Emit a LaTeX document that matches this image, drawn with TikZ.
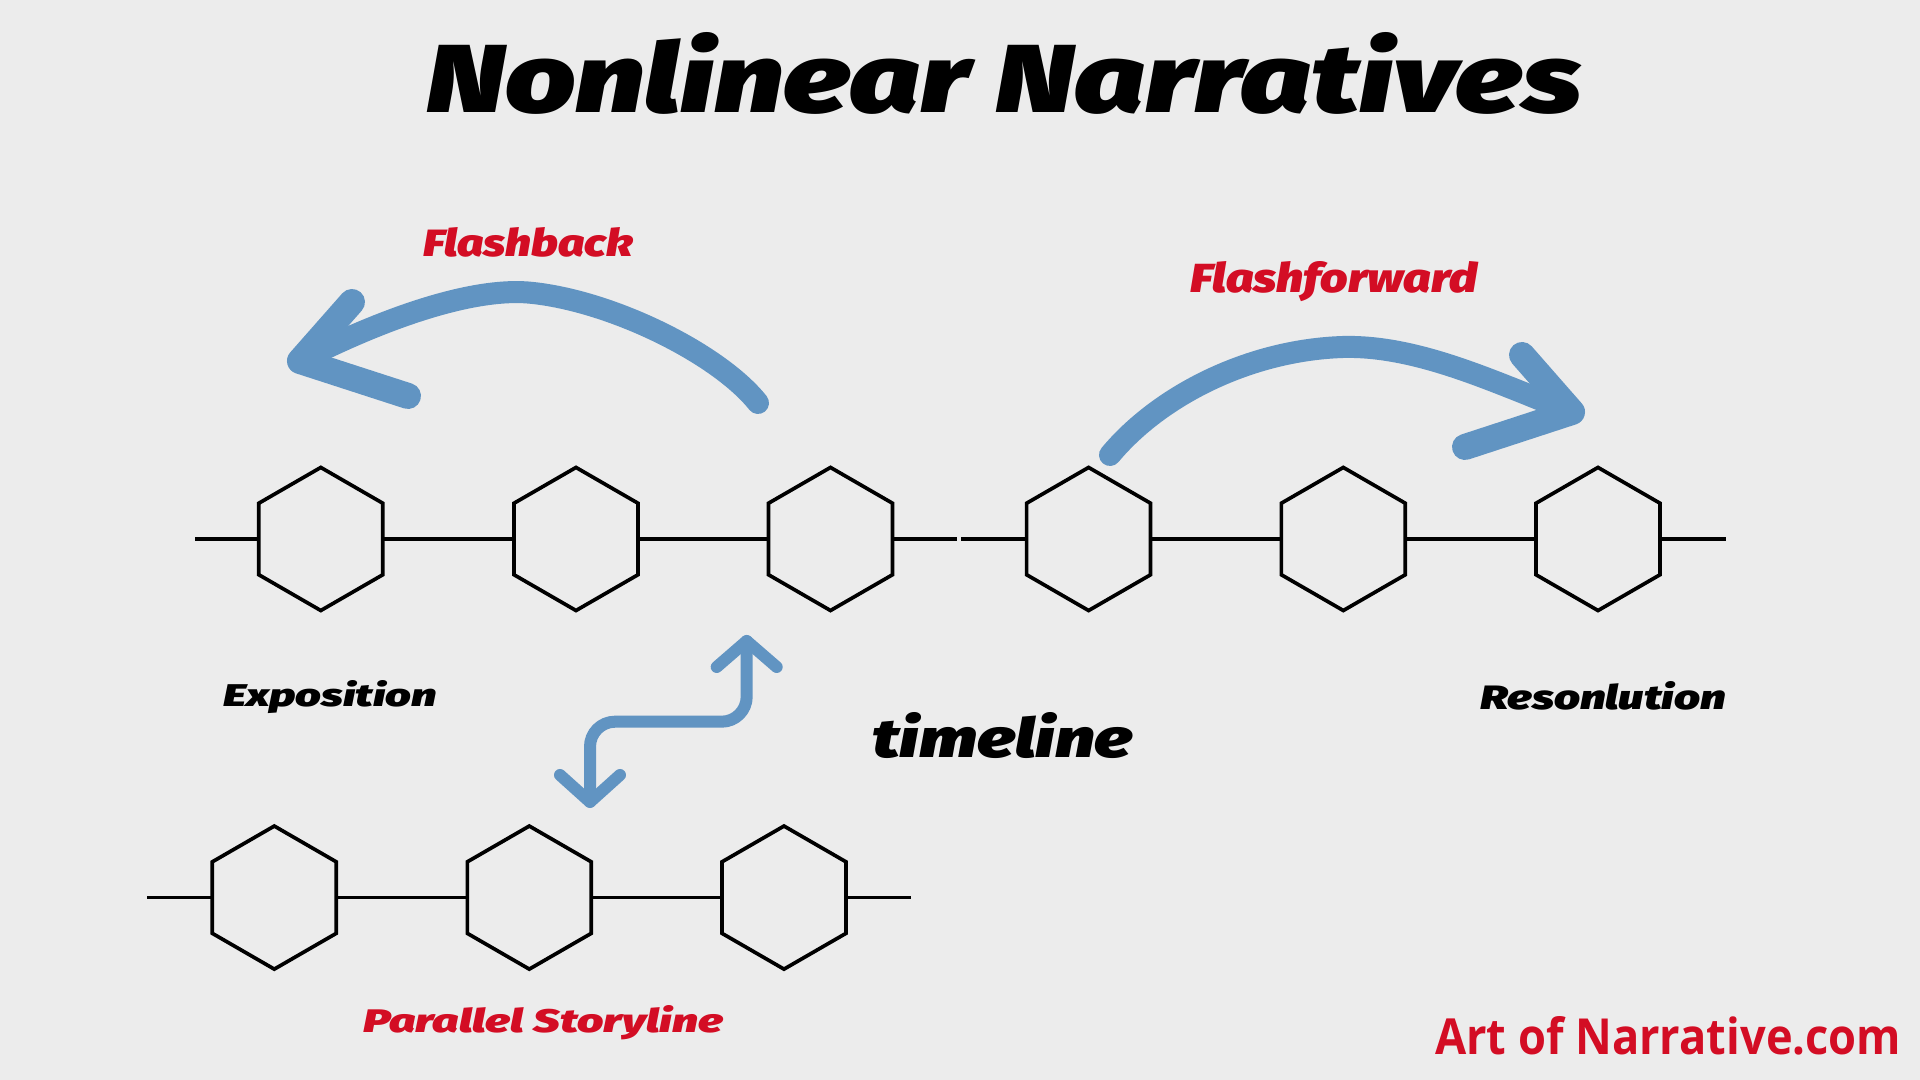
\documentclass[tikz,border=0pt]{standalone}
\usepackage{fontspec}
\usepackage{graphicx}
\usetikzlibrary{shapes.geometric}
\IfFontExistsTF{Fira Sans Black Italic}
 {\newfontfamily\hvfam{Fira Sans Black Italic}\newcommand\hv{\hvfam}}
 {\IfFontExistsTF{Fira Sans Heavy Italic}
   {\newfontfamily\hvfam{Fira Sans Heavy Italic}\newcommand\hv{\hvfam}}
   {\newfontfamily\hvfam{Liberation Sans}\newcommand\hv{\hvfam\bfseries\itshape}}}
\newfontfamily\osans{Open Sans}
\definecolor{bgc}{RGB}{236,236,236}
\definecolor{arrowblue}{RGB}{97,148,194}
\definecolor{labelred}{RGB}{211,13,36}
\begin{document}
\begin{tikzpicture}[x=0.01cm,y=-0.01cm,
  hexa/.style={regular polygon, regular polygon sides=6, shape border rotate=30,
    draw=black, line width=1.05pt, minimum size=1.43cm, inner sep=0pt, outer sep=0pt},
  tl/.style={draw=black, line width=1.05pt},
  brush/.style={draw=arrowblue, line width=0.22cm, line cap=round, line join=round},
  brushhead/.style={brush, line width=0.26cm},
  pararrow/.style={draw=arrowblue, line width=0.12cm, line cap=round, line join=round},
  lbl/.style={anchor=base west, inner sep=0pt, outer sep=0pt}]
\fill[bgc] (0,0) rectangle (1920,1080);
\useasboundingbox (0,0) rectangle (1920,1080);

% title
\node[lbl] (title) at (426,113) {\resizebox{11.55cm}{0.80cm}{\hv Nonlinear Narratives}};

% main timeline
\foreach \n/\x in {h1/320.8,h2/576,h3/830.5,h4/1088.6,h5/1343.3,h6/1598}
  \node[hexa] (\n) at (\x,539) {};
\coordinate (tlstart) at (195,539);
\coordinate (gapl) at (957,539);
\coordinate (gapr) at (961,539);
\coordinate (tlend) at (1726,539);
\draw[tl] (tlstart) -- (h1) (h1) -- (h2) (h2) -- (h3) (h3) -- (gapl)
          (gapr) -- (h4) (h4) -- (h5) (h5) -- (h6) (h6) -- (tlend);

% parallel timeline
\foreach \n/\x in {b1/274.3,b2/529.3,b3/784}
  \node[hexa] (\n) at (\x,897.6) {};
\coordinate (plstart) at (147,897.6);
\coordinate (plend) at (911,897.6);
\draw[tl] (plstart) -- (b1) (b1) -- (b2) (b2) -- (b3) (b3) -- (plend);

% flashback arrow
\coordinate (fbtail) at (758,403);
\coordinate (fbtip) at (300,361);
\coordinate (fbup) at (352,302);
\coordinate (fblow) at (408,396);
\draw[brush] (fbtail) .. controls (720,355) and (615,302) .. (533,293)
   .. controls (473,286) and (380,320) .. (fbtip);
\draw[brushhead] (fbup) -- (fbtip) -- (fblow);

% flashforward arrow
\coordinate (fftail) at (1110,455);
\coordinate (fftip) at (1572,412);
\coordinate (ffup) at (1522,355);
\coordinate (fflow) at (1465,447);
\draw[brush] (fftail) .. controls (1160,395) and (1250,350) .. (1343,347)
   .. controls (1420,345) and (1500,385) .. (fftip);
\draw[brushhead] (ffup) -- (fftip) -- (fflow);

% parallel double arrow
\coordinate (ptop) at (746.7,641);
\coordinate (pbot) at (590,802);
\draw[pararrow, rounded corners=0.25cm] (ptop) -- (746.7,721.7) -- (590,721.7) -- (pbot);
\draw[pararrow] (716.7,667) -- (ptop) -- (776.7,667);
\draw[pararrow] (560,775) -- (pbot) -- (620,775);

% labels
\node[lbl, text=labelred] (flashback) at (423,256.7) {\resizebox{2.10cm}{0.29cm}{\hv Flashback}};
\node[lbl, text=labelred] (flashforward) at (1190,292.5) {\resizebox{2.87cm}{0.31cm}{\hv Flashforward}};
\node[lbl] (exposition) at (223,706.7) {\resizebox{2.14cm}{0.26cm}{\hv Exposition}};
\node[lbl] (resolution) at (1480,709.3) {\resizebox{2.46cm}{0.28cm}{\hv Resonlution}};
\node[lbl] (timeline) at (872,758) {\resizebox{2.61cm}{0.45cm}{\hv timeline}};
\node[lbl, text=labelred] (parallel) at (363,1033) {\resizebox{3.60cm}{0.27cm}{\hv Parallel Storyline}};
\node[lbl, text=labelred] (site) at (1435,1055) {\resizebox{4.66cm}{0.38cm}{\osans\bfseries Art of Narrative.com}};
\end{tikzpicture}
\end{document}
